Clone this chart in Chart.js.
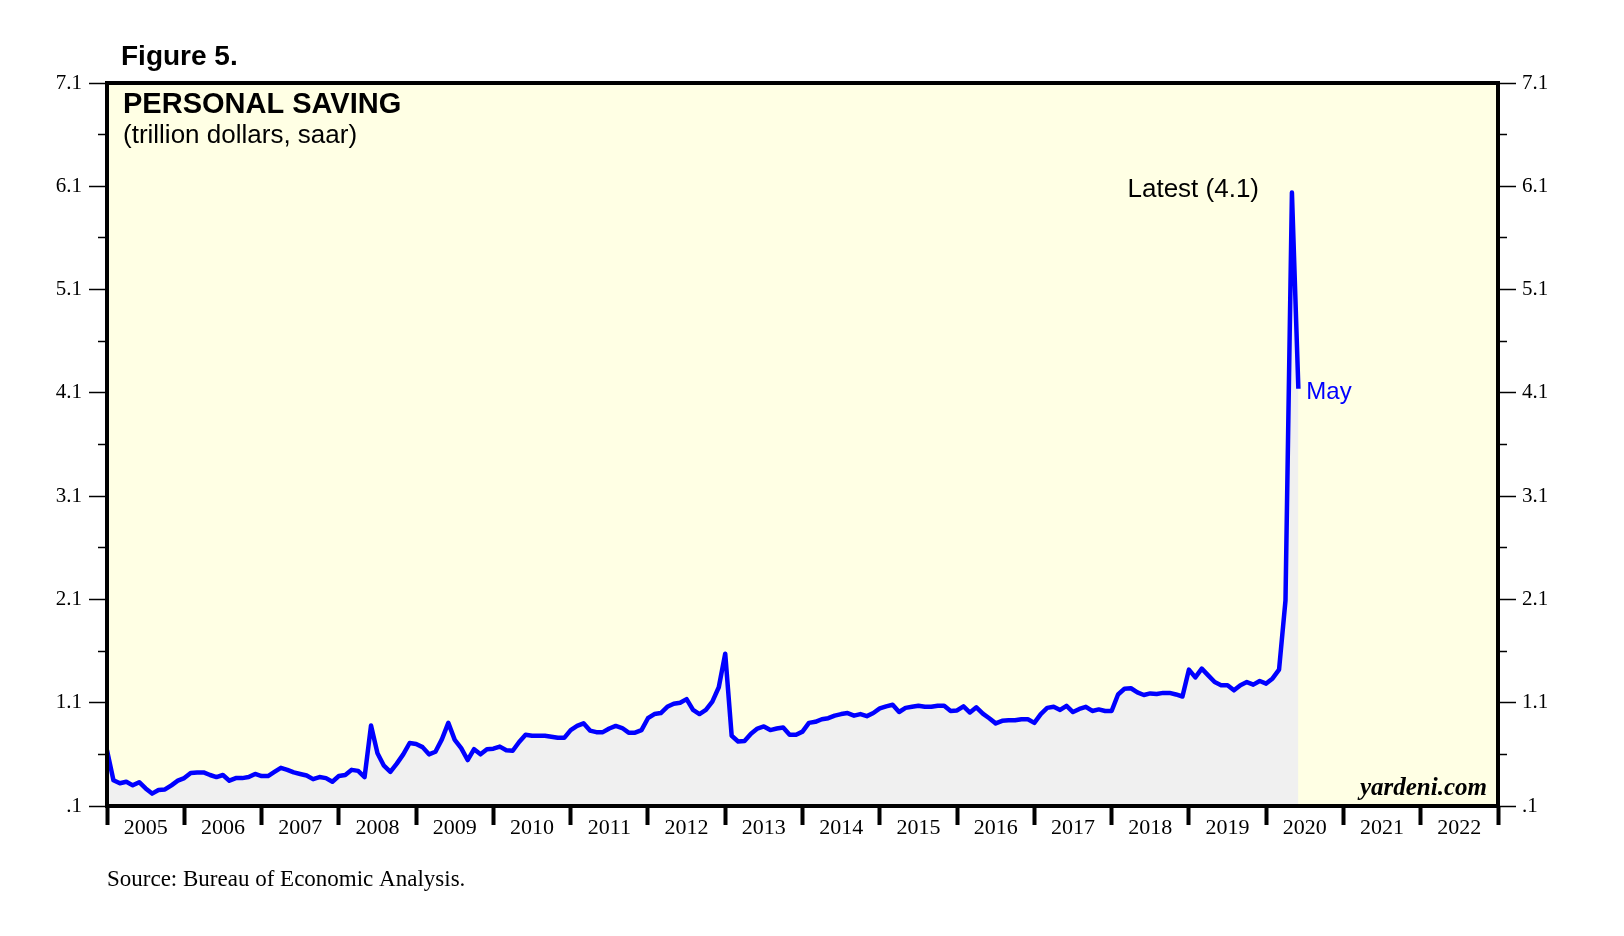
<!DOCTYPE html>
<html>
<head>
<meta charset="utf-8">
<script src="https://cdn.jsdelivr.net/npm/chart.js@4.4.1/dist/chart.umd.min.js"></script>
<style>
html,body{margin:0;padding:0;background:#ffffff;}
#wrap{width:1624px;height:936px;position:relative;}
</style>
</head>
<body>
<div id="wrap"><canvas id="c" width="1624" height="936"></canvas></div>
<script>
// Personal saving, trillion dollars (saar), monthly: Dec 2004 ... May 2020
const firstPointYear = 2005; // Dec 2004 value plotted at start of 2005, one point per month
const saving = [
  0.64,
  0.35,0.32,0.335,0.30,0.33,0.27,0.22,0.255,0.26,0.30,0.345,0.37,
  0.42,0.425,0.425,0.40,0.38,0.40,0.345,0.37,0.37,0.38,0.41,0.39,
  0.39,0.43,0.47,0.45,0.425,0.41,0.395,0.36,0.38,0.37,0.335,0.39,
  0.40,0.45,0.44,0.38,0.88,0.61,0.49,0.43,0.51,0.60,0.71,0.70,
  0.67,0.60,0.625,0.745,0.905,0.74,0.66,0.545,0.65,0.60,0.65,0.655,
  0.675,0.64,0.635,0.72,0.79,0.78,0.78,0.78,0.77,0.76,0.76,0.835,
  0.875,0.90,0.83,0.815,0.815,0.85,0.875,0.855,0.81,0.81,0.835,0.95,
  0.99,1.0,1.06,1.09,1.10,1.135,1.03,0.99,1.03,1.11,1.25,1.575,
  0.78,0.725,0.73,0.80,0.85,0.87,0.835,0.85,0.86,0.79,0.79,0.82,
  0.905,0.915,0.94,0.95,0.975,0.99,1.0,0.975,0.99,0.97,1.0,1.045,
  1.065,1.08,1.01,1.05,1.06,1.07,1.06,1.06,1.07,1.07,1.02,1.025,
  1.065,1.005,1.055,0.995,0.95,0.90,0.925,0.93,0.93,0.94,0.94,0.905,
  0.99,1.05,1.06,1.03,1.07,1.01,1.04,1.06,1.02,1.035,1.02,1.02,
  1.18,1.235,1.24,1.20,1.175,1.19,1.185,1.195,1.195,1.18,1.16,1.42,
  1.345,1.43,1.365,1.30,1.27,1.27,1.22,1.27,1.30,1.275,1.31,1.285,
  1.335,1.42,2.09,6.04,4.14
];
const yearLabels = [2005,2006,2007,2008,2009,2010,2011,2012,2013,2014,2015,2016,2017,2018,2019,2020,2021,2022];
const yearTicks = [2005,2006,2007,2008,2009,2010,2011,2012,2013,2014,2015,2016,2017,2018,2019,2020,2021,2022,2023];
const yMajorTicks = [0.1,1.1,2.1,3.1,4.1,5.1,6.1,7.1];
const yMinorTicks = [0.6,1.6,2.6,3.6,4.6,5.6,6.6];
const latestLabel = 'Latest (4.1)';
const latestMonth = 'May';

const SANS = '"Liberation Sans", Arial, sans-serif';
const SERIF = '"Liberation Serif", "Times New Roman", serif';

const points = saving.map((v, k) => ({x: firstPointYear + k / 12, y: v}));

function setTicks(list) {
  return function(scale) { scale.ticks = list.map(v => ({value: v})); };
}
function fixWidth(w) {
  return function(scale) { scale.width = w; scale.paddingTop = 0; scale.paddingBottom = 0; };
}
function fixHeight(h) {
  return function(scale) { scale.height = h; scale.paddingLeft = 0; scale.paddingRight = 0; };
}
function majorLabel(v) {
  const s = Number(v).toFixed(1);
  return s.startsWith('0') ? s.slice(1) : s;
}

const decor = {
  id: 'decor',
  beforeDraw(chart) {
    const {ctx, chartArea: a} = chart;
    ctx.save();
    ctx.fillStyle = '#FFFFE4';
    ctx.fillRect(a.left, a.top, a.width, a.height);
    ctx.restore();
  },
  afterDraw(chart) {
    const {ctx, chartArea: a} = chart;
    const xs = chart.scales.x, ys = chart.scales.y;
    ctx.save();
    ctx.strokeStyle = '#000';
    ctx.lineWidth = 4;
    ctx.strokeRect(a.left, a.top, a.width, a.height);

    ctx.fillStyle = '#000';
    ctx.textBaseline = 'alphabetic';
    ctx.textAlign = 'left';
    ctx.font = 'bold 28px ' + SANS;
    ctx.fillText('Figure 5.', 121, 65);
    ctx.font = 'bold 29px ' + SANS;
    ctx.fillText('PERSONAL SAVING', a.left + 16, a.top + 30);
    ctx.font = '26px ' + SANS;
    ctx.fillText('(trillion dollars, saar)', a.left + 16, a.top + 60);

    const last = points[points.length - 1];
    const lx = xs.getPixelForValue(last.x);
    const ly = ys.getPixelForValue(last.y);
    ctx.font = '26px ' + SANS;
    ctx.textAlign = 'right';
    ctx.fillText(latestLabel, 1259, 197);
    ctx.textAlign = 'left';
    ctx.fillStyle = '#0000FF';
    ctx.font = '24px ' + SANS;
    ctx.fillText(latestMonth, lx + 8, ly + 10);

    ctx.fillStyle = '#000';
    ctx.textAlign = 'right';
    ctx.font = 'italic bold 25px ' + SERIF;
    ctx.fillText('yardeni.com', a.right - 11, a.bottom - 11);

    ctx.textAlign = 'left';
    ctx.font = '23px ' + SERIF;
    ctx.fillText('Source: Bureau of Economic Analysis.', 107, 886);
    ctx.restore();
  }
};

new Chart(document.getElementById('c'), {
  type: 'line',
  data: {
    datasets: [{
      data: points,
      borderColor: '#0000FF',
      borderWidth: 4.5,
      borderJoinStyle: 'round',
      backgroundColor: '#F0F0F0',
      fill: 'start',
      pointRadius: 0,
      tension: 0,
      xAxisID: 'x',
      yAxisID: 'y'
    }]
  },
  options: {
    responsive: false,
    animation: false,
    devicePixelRatio: 1,
    layout: {padding: {top: 83, left: 0, right: 0, bottom: 0}},
    plugins: {legend: {display: false}, tooltip: {enabled: false}, title: {display: false}},
    scales: {
      x: {
        type: 'linear', position: 'bottom', min: 2005, max: 2023, weight: 0,
        afterBuildTicks: setTicks(yearTicks), afterFit: fixHeight(0),
        grid: {drawOnChartArea: false, tickLength: 19, tickWidth: 4, tickColor: '#000'},
        border: {display: false},
        ticks: {display: false}
      },
      xLab: {
        type: 'linear', position: 'bottom', min: 2005, max: 2023, weight: 1,
        afterBuildTicks: setTicks(yearLabels.map(y => y + 0.5)), afterFit: fixHeight(130),
        grid: {display: false, drawTicks: false},
        border: {display: false},
        ticks: {padding: 9, color: '#000', font: {family: SERIF, size: 22}, maxRotation: 0, autoSkip: false,
          callback: v => String(Math.floor(v))}
      },
      y: {
        type: 'linear', position: 'left', min: 0.1, max: 7.1, weight: 1,
        afterBuildTicks: setTicks(yMajorTicks), afterFit: fixWidth(107),
        grid: {drawOnChartArea: false, tickLength: 18, tickWidth: 1.5, tickColor: '#000'},
        border: {display: false},
        ticks: {padding: 7, color: '#000', font: {family: SERIF, size: 21}, autoSkip: false, callback: majorLabel}
      },
      yMinL: {
        type: 'linear', position: 'left', min: 0.1, max: 7.1, weight: 0,
        afterBuildTicks: setTicks(yMinorTicks), afterFit: fixWidth(0),
        grid: {drawOnChartArea: false, tickLength: 9, tickWidth: 1.5, tickColor: '#000'},
        border: {display: false},
        ticks: {display: false}
      },
      yR: {
        type: 'linear', position: 'right', min: 0.1, max: 7.1, weight: 1,
        afterBuildTicks: setTicks(yMajorTicks), afterFit: fixWidth(126),
        grid: {drawOnChartArea: false, tickLength: 18, tickWidth: 1.5, tickColor: '#000'},
        border: {display: false},
        ticks: {padding: 6, color: '#000', font: {family: SERIF, size: 21}, autoSkip: false, callback: majorLabel}
      },
      yMinR: {
        type: 'linear', position: 'right', min: 0.1, max: 7.1, weight: 0,
        afterBuildTicks: setTicks(yMinorTicks), afterFit: fixWidth(0),
        grid: {drawOnChartArea: false, tickLength: 9, tickWidth: 1.5, tickColor: '#000'},
        border: {display: false},
        ticks: {display: false}
      }
    }
  },
  plugins: [decor]
});
</script>
</body>
</html>
